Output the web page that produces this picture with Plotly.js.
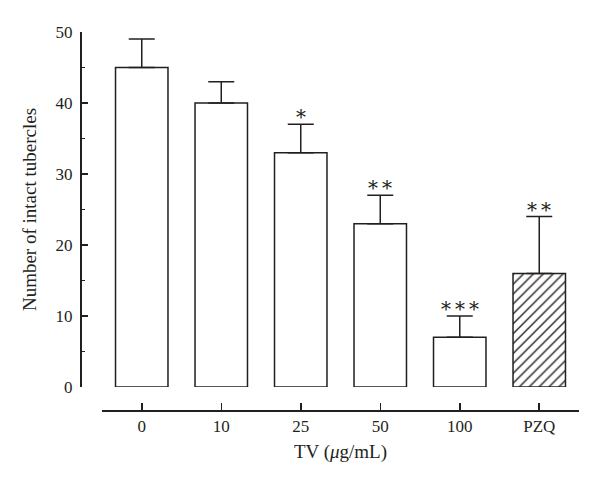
<!DOCTYPE html>
<html>
<head>
<meta charset="utf-8">
<script src="https://cdn.plot.ly/plotly-3.0.1.min.js"></script>
<style>html,body{margin:0;padding:0;background:#fff;}#chart{width:600px;height:491px;}</style>
</head>
<body>
<div id="chart"></div>
<script>
const categories = ['0', '10', '25', '50', '100', 'PZQ'];
const meanValues = [45, 40, 33, 23, 7, 16];
const errorValues = [4, 3, 4, 4, 3, 8];
const significance = ['', '', '*', '**', '***', '**'];
const patterns = ['', '', '', '', '', '/'];

const ink = '#231f20';
const serif = 'Liberation Serif, Times New Roman, serif';

const trace = {
  type: 'bar',
  x: categories,
  y: meanValues,
  width: 0.66,
  marker: {
    color: '#ffffff',
    line: {color: ink, width: 1.5},
    pattern: {shape: patterns, fgcolor: ink, bgcolor: '#ffffff', size: 7, solidity: 0.2}
  },
  error_y: {
    type: 'data',
    symmetric: false,
    array: errorValues,
    arrayminus: errorValues.map(() => 0),
    color: ink,
    thickness: 1.5,
    width: 13
  },
  hoverinfo: 'none'
};

const annotations = [];
categories.forEach((c, i) => {
  if (significance[i] !== '') {
    annotations.push({
      x: i,
      y: meanValues[i] + errorValues[i],
      xref: 'x', yref: 'y',
      text: significance[i].split('').join('\u2009'),
      showarrow: false,
      yanchor: 'bottom',
      yshift: -7,
      font: {family: 'DejaVu Serif, serif', size: 20, color: ink}
    });
  }
});

const layout = {
  width: 600, height: 491,
  margin: {l: 80, r: 21, t: 32, b: 81},
  paper_bgcolor: '#ffffff',
  plot_bgcolor: '#ffffff',
  showlegend: false,
  font: {family: serif, size: 17, color: ink},
  xaxis: {
    type: 'category',
    range: [-0.5, 5.5],
    domain: [0.0441, 1],
    anchor: 'free',
    position: 0,
    showline: true, linecolor: ink, linewidth: 1.5,
    ticks: 'inside', ticklen: 7, tickwidth: 1.5, tickcolor: ink,
    showgrid: false, zeroline: false,
    tickfont: {family: serif, size: 17, color: ink},
    title: {text: 'TV (<i>μ</i>g/mL)', font: {family: serif, size: 19, color: ink}, standoff: 10}
  },
  yaxis: {
    range: [0, 50],
    domain: [0.0608, 1],
    anchor: 'free',
    position: 0,
    dtick: 10,
    showline: true, linecolor: ink, linewidth: 1.5,
    ticks: 'inside', ticklen: 6, tickwidth: 1.5, tickcolor: ink,
    ticklabelstandoff: 4,
    minor: {dtick: 5, ticks: 'inside', ticklen: 3, tickwidth: 1.5, tickcolor: ink},
    showgrid: false, zeroline: false,
    tickfont: {family: serif, size: 17, color: ink},
    title: {text: 'Number of intact tubercles', font: {family: serif, size: 19, color: ink}, standoff: 12}
  },
  annotations: annotations
};

Plotly.newPlot('chart', [trace], layout, {displayModeBar: false, staticPlot: true});
</script>
</body>
</html>
